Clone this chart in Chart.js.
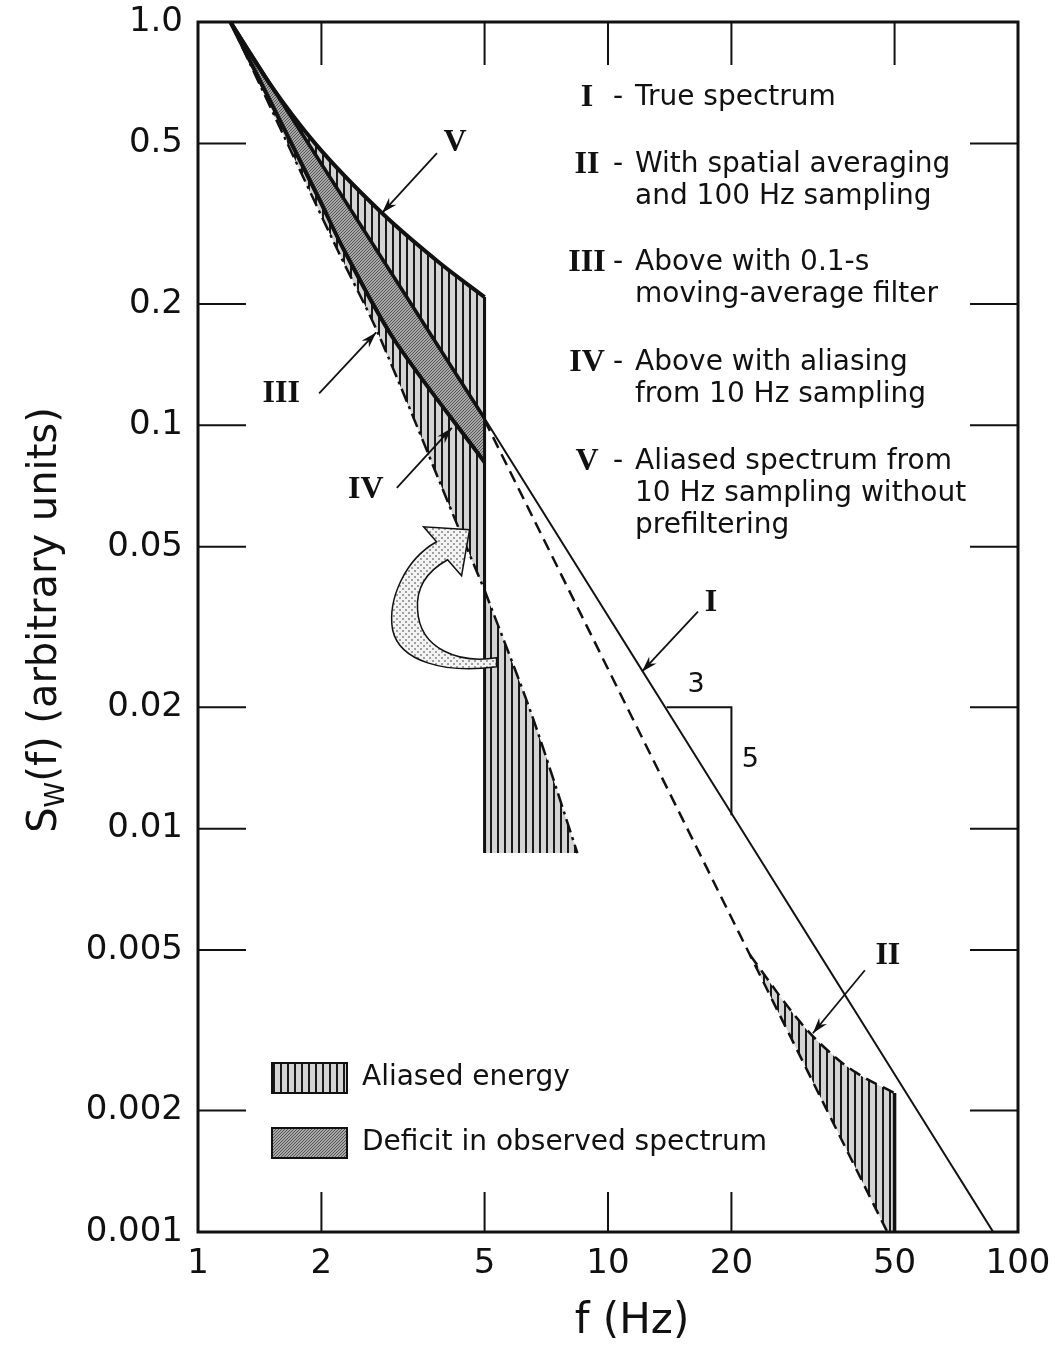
<!DOCTYPE html>
<html>
<head>
<meta charset="utf-8">
<script src="https://cdn.jsdelivr.net/npm/chart.js@4.4.1/dist/chart.umd.min.js"></script>
<style>
  body { margin: 0; background: #fff; }
  canvas { display: block; }
</style>
</head>
<body>
<canvas id="spectrumChart" width="1055" height="1350"></canvas>
<script>
// tick values and labels
const xTicks = [1, 2, 5, 10, 20, 50, 100];
const xTickLabels = ['1', '2', '5', '10', '20', '50', '100'];
const yTicks = [0.001, 0.002, 0.005, 0.01, 0.02, 0.05, 0.1, 0.2, 0.5, 1];
const yTickLabels = ['0.001', '0.002', '0.005', '0.01', '0.02', '0.05', '0.1', '0.2', '0.5', '1.0'];

// I - true spectrum
const trueF = [1.2, 5, 87];
const trueS = [1.0, 0.104, 0.001];
// V - aliased spectrum without prefiltering
const aliasF = [1.2, 1.5, 1.93, 2.81, 3.88, 5];
const aliasS = [1.0, 0.70, 0.50, 0.336, 0.253, 0.208];
// IV - above with aliasing from 10 Hz sampling
const observedF = [1.2, 1.98, 2.27, 3.01, 5];
const observedS = [1.0, 0.362, 0.272, 0.163, 0.081];
// III - with 0.1-s moving-average filter
const filteredF = [1.2, 2.19, 2.75, 4.31, 5];
const filteredS = [1.0, 0.272, 0.169, 0.056, 0.039];
const foldedF = [5, 6.5, 8.42];
const foldedS = [0.039, 0.0193, 0.0087];
const foldFloor = 0.0087;
// II - spatial averaging and 100 Hz sampling
const spatialF = [5, 22.2, 50];
const spatialS = [0.103, 0.00486, 0.00092];
const spatialAliasF = [22.2, 28.9, 34.2, 40.4, 50];
const spatialAliasS = [0.00486, 0.00339, 0.00283, 0.00248, 0.00221];

const pts = (fs, ss) => fs.map((f, i) => ({ x: f, y: ss[i] }));

const canvas = document.getElementById('spectrumChart');
const cctx = canvas.getContext('2d');

function makePattern(w, h, draw) {
  const c = document.createElement('canvas');
  c.width = w; c.height = h;
  draw(c.getContext('2d'));
  return cctx.createPattern(c, 'repeat');
}
const hatch = makePattern(7, 4, g => {
  g.fillStyle = '#d4d4d4'; g.fillRect(0, 0, 7, 4);
  g.fillStyle = '#1a1a1a'; g.fillRect(0, 0, 2, 4);
});
const dark = makePattern(3, 3, g => {
  g.fillStyle = '#a8a8a8'; g.fillRect(0, 0, 3, 3);
  g.fillStyle = '#555'; g.fillRect(0, 0, 1, 1); g.fillRect(2, 1, 1, 1); g.fillRect(1, 2, 1, 1);
});
const dotted = makePattern(6, 6, g => {
  g.fillStyle = '#f3f3f3'; g.fillRect(0, 0, 6, 6);
  g.fillStyle = '#a0a0a0'; g.fillRect(0, 0, 2, 2); g.fillRect(3, 3, 2, 2);
});

const FONT = '"DejaVu Sans", sans-serif';
const SERIF = 'bold 32px "Liberation Serif", "DejaVu Serif", serif';

const legendRows = [
  ['I', 'True spectrum'],
  ['II', 'With spatial averaging', 'and 100 Hz sampling'],
  ['III', 'Above with 0.1-s', 'moving-average filter'],
  ['IV', 'Above with aliasing', 'from 10 Hz sampling'],
  ['V', 'Aliased spectrum from', '10 Hz sampling without', 'prefiltering']
];
const legendRowY = [98, 165, 263, 363, 462];

// roman labels: arrow tip in data units, tail/label offsets in px
const curveLabels = [
  { text: 'V', f: 2.81, s: 0.336, tail: [55, -60], lab: [73, -70] },
  { text: 'III', f: 2.72, s: 0.170, tail: [-57, 61], lab: [-95, 61] },
  { text: 'IV', f: 4.16, s: 0.0985, tail: [-55, 60], lab: [-86, 62] },
  { text: 'I', f: 12.1, s: 0.0245, tail: [56, -60], lab: [69, -69] },
  { text: 'II', f: 31.6, s: 0.00311, tail: [52, -63], lab: [75, -78] }
];

function line(ctx, x0, y0, x1, y1) {
  ctx.beginPath(); ctx.moveTo(x0, y0); ctx.lineTo(x1, y1); ctx.stroke();
}
function arrow(ctx, x0, y0, x1, y1) {
  line(ctx, x0, y0, x1, y1);
  const a = Math.atan2(y1 - y0, x1 - x0);
  ctx.beginPath();
  ctx.moveTo(x1, y1);
  ctx.lineTo(x1 - 16 * Math.cos(a) + 5 * Math.sin(a), y1 - 16 * Math.sin(a) - 5 * Math.cos(a));
  ctx.lineTo(x1 - 11 * Math.cos(a), y1 - 11 * Math.sin(a));
  ctx.lineTo(x1 - 16 * Math.cos(a) - 5 * Math.sin(a), y1 - 16 * Math.sin(a) + 5 * Math.cos(a));
  ctx.closePath();
  ctx.fill();
}

const decorations = {
  id: 'decorations',
  afterDraw(chart) {
    const { ctx, chartArea: a, scales: { x, y } } = chart;
    ctx.save();
    ctx.strokeStyle = '#111';
    ctx.fillStyle = '#111';

    // frame and inward ticks
    ctx.lineWidth = 3;
    ctx.strokeRect(a.left, a.top, a.right - a.left, a.bottom - a.top);
    ctx.lineWidth = 2;
    yTicks.slice(1, -1).forEach(v => {
      const py = y.getPixelForValue(v);
      line(ctx, a.left, py, a.left + 48, py);
      line(ctx, a.right - 48, py, a.right, py);
    });
    xTicks.slice(1, -1).forEach(v => {
      const px = x.getPixelForValue(v);
      line(ctx, px, a.top, px, a.top + 43);
      line(ctx, px, a.bottom - 40, px, a.bottom);
    });

    // slope triangle
    ctx.lineWidth = 2;
    ctx.beginPath();
    ctx.moveTo(x.getPixelForValue(13.9), y.getPixelForValue(0.02));
    ctx.lineTo(x.getPixelForValue(20), y.getPixelForValue(0.02));
    ctx.lineTo(x.getPixelForValue(20), y.getPixelForValue(0.0108));
    ctx.stroke();
    ctx.font = '27px ' + FONT;
    ctx.textAlign = 'center';
    ctx.textBaseline = 'middle';
    ctx.fillText('3', x.getPixelForValue(16.4), y.getPixelForValue(0.02) - 22);
    ctx.fillText('5', x.getPixelForValue(20) + 19, y.getPixelForValue(0.0148));

    // curved folding arrow
    const ax = x.getPixelForValue(5), ay = y.getPixelForValue(0.05);
    ctx.beginPath();
    ctx.moveTo(ax + 12, ay + 111);
    ctx.bezierCurveTo(ax - 25, ay + 117, ax - 65, ay + 103, ax - 67, ay + 63);
    ctx.bezierCurveTo(ax - 69, ay + 38, ax - 55, ay + 23, ax - 37, ay + 13);
    ctx.lineTo(ax - 23, ay + 29);
    ctx.lineTo(ax - 15, ay - 17);
    ctx.lineTo(ax - 61, ay - 20);
    ctx.lineTo(ax - 48, ay - 5);
    ctx.bezierCurveTo(ax - 80, ay + 13, ax - 97, ay + 53, ax - 92, ay + 83);
    ctx.bezierCurveTo(ax - 85, ay + 115, ax - 40, ay + 127, ax + 12, ay + 120);
    ctx.closePath();
    ctx.fillStyle = dotted;
    ctx.fill();
    ctx.lineWidth = 1.5;
    ctx.stroke();
    ctx.fillStyle = '#111';

    // roman labels with arrows
    ctx.lineWidth = 1.8;
    curveLabels.forEach(l => {
      const tx = x.getPixelForValue(l.f), ty = y.getPixelForValue(l.s);
      arrow(ctx, tx + l.tail[0], ty + l.tail[1], tx, ty);
      ctx.font = SERIF;
      ctx.textAlign = 'center';
      ctx.textBaseline = 'middle';
      ctx.fillText(l.text, tx + l.lab[0], ty + l.lab[1]);
    });

    // legend text (top right)
    legendRows.forEach((row, i) => {
      const y0 = legendRowY[i];
      ctx.textBaseline = 'middle';
      ctx.font = SERIF;
      ctx.textAlign = 'center';
      ctx.fillText(row[0], 587, y0);
      ctx.font = '28px ' + FONT;
      ctx.fillText('-', 618, y0);
      ctx.textAlign = 'left';
      row.slice(1).forEach((t, k) => ctx.fillText(t, 635, y0 + k * 32));
    });

    // fill legend (bottom left)
    const boxes = [[hatch, 'Aliased energy', 1078], [dark, 'Deficit in observed spectrum', 1143]];
    boxes.forEach(([pat, label, cy]) => {
      ctx.fillStyle = pat;
      ctx.fillRect(272, cy - 15, 75, 30);
      ctx.lineWidth = 2;
      ctx.strokeRect(272, cy - 15, 75, 30);
      ctx.fillStyle = '#111';
      ctx.font = '28px ' + FONT;
      ctx.textAlign = 'left';
      ctx.textBaseline = 'middle';
      ctx.fillText(label, 362, cy);
    });

    // axis titles
    ctx.font = '42px ' + FONT;
    ctx.textAlign = 'center';
    ctx.textBaseline = 'middle';
    ctx.fillText('f (Hz)', 632, 1322);

    ctx.translate(42, 620);
    ctx.rotate(-Math.PI / 2);
    ctx.textAlign = 'left';
    ctx.textBaseline = 'alphabetic';
    const big = '40px ' + FONT, small = '26px ' + FONT;
    ctx.font = big; const wS = ctx.measureText('S').width;
    const rest = '(f) (arbitrary units)';
    const wR = ctx.measureText(rest).width;
    ctx.font = small; const wW = ctx.measureText('W').width;
    let cx = -(wS + wW + wR) / 2;
    ctx.font = big; ctx.fillText('S', cx, 14);
    ctx.font = small; ctx.fillText('W', cx + wS, 22);
    ctx.font = big; ctx.fillText(rest, cx + wS + wW, 14);
    ctx.restore();
  }
};

const base = { pointRadius: 0, borderColor: '#111', fill: false, tension: 0 };

new Chart(cctx, {
  type: 'line',
  data: {
    datasets: [
      { ...base, label: 'I', data: pts(trueF, trueS), borderWidth: 2,
        segment: { borderWidth: c => (c.p0.parsed.x < 5 ? 3.5 : 2) },
        fill: { target: 2, above: dark, below: dark } },
      { ...base, label: 'V', data: pts(aliasF, aliasS), borderWidth: 4, cubicInterpolationMode: 'monotone',
        fill: { target: 0, above: hatch, below: hatch } },
      { ...base, label: 'IV', data: pts(observedF, observedS), borderWidth: 4, tension: 0.3,
        fill: { target: 3, above: hatch, below: hatch } },
      { ...base, label: 'III', data: pts(filteredF, filteredS), borderWidth: 2.5, tension: 0.3,
        borderDash: [14, 5, 3, 5] },
      { ...base, label: 'III folded', data: pts(foldedF, foldedS), borderWidth: 2.5, tension: 0.3,
        borderDash: [14, 5, 3, 5], fill: { target: { value: foldFloor }, above: hatch, below: hatch } },
      { ...base, label: 'II', data: pts(spatialF, spatialS), borderWidth: 2.5, borderDash: [12, 7] },
      { ...base, label: 'II aliased', data: pts(spatialAliasF, spatialAliasS), borderWidth: 2.5,
        tension: 0.4, borderDash: [12, 7], fill: { target: 5, above: hatch, below: hatch } },
      { ...base, label: 'edge 5 Hz', data: [{ x: 5, y: aliasS[aliasS.length - 1] }, { x: 5, y: foldFloor }], borderWidth: 3 },
      { ...base, label: 'edge 50 Hz', data: [{ x: 50, y: spatialAliasS[spatialAliasS.length - 1] }, { x: 50, y: 0.001 }], borderWidth: 3.5 }
    ]
  },
  options: {
    responsive: false,
    animation: false,
    devicePixelRatio: 1,
    layout: { padding: { top: 22, right: 37, left: 0, bottom: 0 } },
    plugins: {
      legend: { display: false },
      tooltip: { enabled: false },
      filler: { drawTime: 'beforeDatasetsDraw' }
    },
    scales: {
      x: {
        type: 'logarithmic', min: 1, max: 100,
        afterBuildTicks: s => { s.ticks = xTicks.map(v => ({ value: v })); },
        afterFit: s => { s.height = 118; s.paddingLeft = 0; s.paddingRight = 0; },
        grid: { display: false, drawTicks: false },
        border: { display: false },
        ticks: { autoSkip: false, maxRotation: 0, padding: 12, color: '#111',
          font: { family: 'DejaVu Sans', size: 34 },
          callback: (v, i) => xTickLabels[i] }
      },
      y: {
        type: 'logarithmic', min: 0.001, max: 1,
        afterBuildTicks: s => { s.ticks = yTicks.map(v => ({ value: v })); },
        afterFit: s => { s.width = 198; s.paddingTop = 0; s.paddingBottom = 0; },
        grid: { display: false, drawTicks: false },
        border: { display: false },
        ticks: { autoSkip: false, padding: 15, color: '#111',
          font: { family: 'DejaVu Sans', size: 34 },
          callback: (v, i) => yTickLabels[i] }
      }
    }
  },
  plugins: [decorations]
});
</script>
</body>
</html>
